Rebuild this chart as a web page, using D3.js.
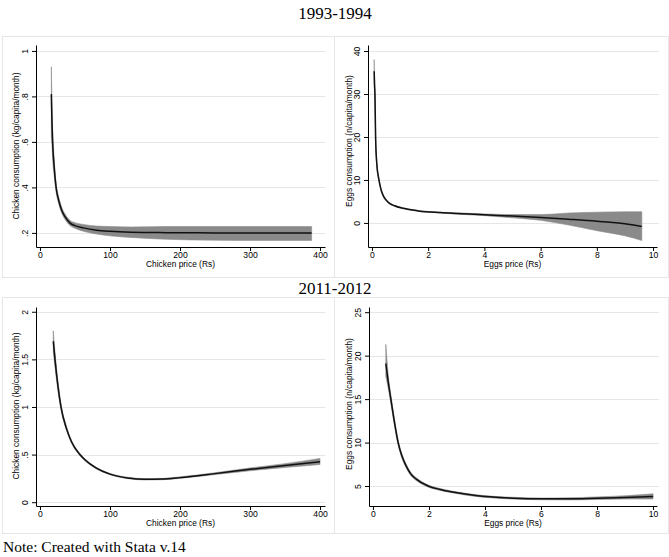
<!DOCTYPE html>
<html><head><meta charset="utf-8">
<script src="https://cdn.jsdelivr.net/npm/d3@7"></script>
<style>
body{margin:0;background:#fff;}
svg{display:block;}
</style></head>
<body><svg id="c" width="669" height="557"></svg>
<script>
// ---------- data ----------
const periodTitles = ["1993-1994", "2011-2012"];
const noteText = "Note: Created with Stata v.14";

// 1993-1994 chicken
const chk93Price = [16.2, 17, 18, 20, 23, 27, 31, 36, 43, 50, 62, 81, 100, 130, 180, 250, 320, 388];
const chk93Fit   = [0.81, 0.70, 0.60, 0.50, 0.40, 0.34, 0.30, 0.27, 0.243, 0.232, 0.222, 0.212, 0.207, 0.203, 0.201, 0.200, 0.200, 0.200];
const chk93Lo    = [0.62, 0.60, 0.53, 0.46, 0.38, 0.325, 0.287, 0.258, 0.232, 0.220, 0.207, 0.195, 0.187, 0.180, 0.172, 0.168, 0.167, 0.167];
const chk93Hi    = [0.93, 0.80, 0.67, 0.54, 0.42, 0.355, 0.313, 0.282, 0.255, 0.245, 0.237, 0.230, 0.228, 0.226, 0.228, 0.228, 0.228, 0.228];

// 1993-1994 eggs
const egg93Price = [0.08, 0.09, 0.107, 0.13, 0.17, 0.25, 0.33, 0.43, 0.55, 0.64, 0.8, 1.11, 1.65, 2.42, 3, 4, 5, 6, 7, 8, 9, 9.6];
const egg93Fit   = [35.3, 32.5, 30, 20, 14, 10, 7.6, 6.0, 5.0, 4.5, 4.0, 3.4, 2.8, 2.4, 2.2, 1.9, 1.6, 1.25, 0.85, 0.4, -0.2, -0.85];
const egg93Lo    = [33, 30.5, 28.5, 19, 13.4, 9.7, 7.4, 5.85, 4.9, 4.4, 3.9, 3.3, 2.7, 2.3, 2.05, 1.7, 1.2, 0.6, -0.5, -1.8, -3.0, -4.1];
const egg93Hi    = [38, 34.5, 31.5, 21, 14.6, 10.3, 7.8, 6.15, 5.1, 4.6, 4.1, 3.5, 2.9, 2.5, 2.35, 2.1, 1.95, 1.95, 2.3, 2.5, 2.6, 2.6];

// 2011-2012 chicken
const chk11Price = [19, 21.4, 26, 30, 38, 45, 57, 65, 80, 100, 125, 150, 175, 200, 250, 300, 350, 400];
const chk11Fit   = [1.69, 1.50, 1.20, 1.00, 0.77, 0.635, 0.50, 0.44, 0.36, 0.295, 0.255, 0.240, 0.243, 0.258, 0.30, 0.345, 0.385, 0.425];
const chk11Lo    = [1.58, 1.42, 1.15, 0.97, 0.75, 0.62, 0.488, 0.43, 0.352, 0.288, 0.248, 0.233, 0.236, 0.250, 0.29, 0.33, 0.365, 0.395];
const chk11Hi    = [1.80, 1.58, 1.25, 1.03, 0.79, 0.65, 0.512, 0.45, 0.368, 0.302, 0.262, 0.247, 0.250, 0.266, 0.31, 0.36, 0.405, 0.46];

// 2011-2012 eggs
const egg11Price = [0.46, 0.55, 0.64, 0.75, 0.9, 1.03, 1.18, 1.35, 1.56, 1.97, 2.4, 2.85, 3.67, 5, 6, 7, 8, 9, 10];
const egg11Fit   = [19.1, 16.9, 15.0, 12.7, 10.0, 8.5, 7.34, 6.4, 5.76, 5.0, 4.6, 4.3, 3.9, 3.6, 3.52, 3.52, 3.6, 3.68, 3.78];
const egg11Lo    = [17.6, 16.2, 14.5, 12.3, 9.7, 8.25, 7.12, 6.22, 5.6, 4.88, 4.49, 4.2, 3.8, 3.5, 3.42, 3.4, 3.45, 3.5, 3.5];
const egg11Hi    = [21.3, 17.7, 15.5, 13.1, 10.3, 8.75, 7.56, 6.58, 5.92, 5.12, 4.71, 4.4, 4.0, 3.7, 3.62, 3.64, 3.75, 3.88, 4.1];

// axis ticks and labels
const chickenXTicks = [0, 100, 200, 300, 400];
const eggsXTicks = [0, 2, 4, 6, 8, 10];
const chk93YTicks = [0.2, 0.4, 0.6, 0.8, 1];
const chk93YLabels = [".2", ".4", ".6", ".8", "1"];
const egg93YTicks = [0, 10, 20, 30, 40];
const egg93YLabels = ["0", "10", "20", "30", "40"];
const chk11YTicks = [0, 0.5, 1, 1.5, 2];
const chk11YLabels = ["0", ".5", "1", "1.5", "2"];
const egg11YTicks = [5, 10, 15, 20, 25];
const egg11YLabels = ["5", "10", "15", "20", "25"];

const chickenXTitle = "Chicken price (Rs)";
const eggsXTitle = "Eggs price (Rs)";
const chickenYTitle = "Chicken consumption (kg/capita/month)";
const eggsYTitle = "Eggs consumption (n/capita/month)";

// ---------- layout ----------
const svg = d3.select("#c");
const serif = "'Liberation Serif','Times New Roman',serif";
const sans = "'Liberation Sans',Arial,sans-serif";

svg.append("text").attr("x", 335).attr("y", 19).attr("text-anchor", "middle")
  .attr("font-family", serif).attr("font-size", 17).text(periodTitles[0]);
svg.append("text").attr("x", 335).attr("y", 294).attr("text-anchor", "middle")
  .attr("font-family", serif).attr("font-size", 17).text(periodTitles[1]);
svg.append("text").attr("x", 3).attr("y", 552)
  .attr("font-family", serif).attr("font-size", 15.5).text(noteText);

const panels = [
  {frame:[2,36,332,241], xd:[-5.7,407.1], xr:[36,325], yd:[0.138,1.026], yr:[247,45], gridR:325,
   price:chk93Price, fit:chk93Fit, lo:chk93Lo, hi:chk93Hi, xt:chickenXTicks, yt:chk93YTicks, yl:chk93YLabels,
   xTitle:chickenXTitle, yTitle:chickenYTitle, yTitleX:18.5, yTitleC:146},
  {frame:[334,36,334,241], xd:[-0.14,10.14], xr:[368,657], yd:[-5.6,41.4], yr:[247,45], gridR:659,
   price:egg93Price, fit:egg93Fit, lo:egg93Lo, hi:egg93Hi, xt:eggsXTicks, yt:egg93YTicks, yl:egg93YLabels,
   xTitle:eggsXTitle, yTitle:eggsYTitle, yTitleX:351.5, yTitleC:141},
  {frame:[2,297,332,236], xd:[-5.7,407.1], xr:[36,325], yd:[-0.04,2.05], yr:[506,307], gridR:325,
   price:chk11Price, fit:chk11Fit, lo:chk11Lo, hi:chk11Hi, xt:chickenXTicks, yt:chk11YTicks, yl:chk11YLabels,
   xTitle:chickenXTitle, yTitle:chickenYTitle, yTitleX:18.5, yTitleC:406},
  {frame:[334,297,334,236], xd:[-0.14,10.14], xr:[369,657], yd:[2.7,25.6], yr:[506,307], gridR:659,
   price:egg11Price, fit:egg11Fit, lo:egg11Lo, hi:egg11Hi, xt:eggsXTicks, yt:egg11YTicks, yl:egg11YLabels,
   xTitle:eggsXTitle, yTitle:eggsYTitle, yTitleX:351.5, yTitleC:404}
];

panels.forEach(p => {
  const g = svg.append("g");
  g.append("rect").attr("x", p.frame[0]+0.5).attr("y", p.frame[1]+0.5)
    .attr("width", p.frame[2]).attr("height", p.frame[3])
    .attr("fill", "none").attr("stroke", "#e6e6e6").attr("stroke-width", 1);

  const x = d3.scaleLinear().domain(p.xd).range(p.xr);
  const y = d3.scaleLinear().domain(p.yd).range(p.yr);

  // gridlines
  g.selectAll(".grid").data(p.yt).enter().append("line")
    .attr("x1", p.xr[0]).attr("x2", p.gridR)
    .attr("y1", d => Math.round(y(d))+0.5).attr("y2", d => Math.round(y(d))+0.5)
    .attr("stroke", "#e6e6e6").attr("stroke-width", 1);

  const pts = p.price.map((v,i) => ({x:v, f:p.fit[i], lo:p.lo[i], hi:p.hi[i]}));
  const area = d3.area().x(d => x(d.x)).y0(d => y(d.lo)).y1(d => y(d.hi)).curve(d3.curveMonotoneX);
  const line = d3.line().x(d => x(d.x)).y(d => y(d.f)).curve(d3.curveMonotoneX);
  g.append("path").datum(pts).attr("d", area).attr("fill", "#8a8a8a").attr("stroke", "#8a8a8a").attr("stroke-width", 0.6);
  g.append("path").datum(pts).attr("d", line).attr("fill", "none").attr("stroke", "#111").attr("stroke-width", 1.5);

  // x axis
  const xa = g.append("g").attr("transform", `translate(0,${p.yr[0]})`)
    .call(d3.axisBottom(x).tickValues(p.xt).tickFormat(d3.format("d")).tickSize(4).tickSizeOuter(0).tickPadding(0.5));
  xa.select(".domain").attr("stroke", "#000");
  xa.selectAll(".tick line").attr("stroke", "#000");
  xa.selectAll(".tick text").attr("font-size", 8.6).attr("fill", "#000").attr("font-family", sans);

  // y axis
  const ya = g.append("g").attr("transform", `translate(${p.xr[0]},0)`)
    .call(d3.axisLeft(y).tickValues(p.yt).tickFormat((d,i) => p.yl[i]).tickSize(4).tickSizeOuter(0));
  ya.select(".domain").attr("stroke", "#000");
  ya.selectAll(".tick line").attr("stroke", "#000");
  ya.selectAll(".tick text").attr("font-size", 8.6).attr("fill", "#000").attr("font-family", sans)
    .attr("x", null).attr("dy", null)
    .attr("text-anchor", "middle")
    .attr("transform", "translate(-8,0) rotate(-90)");

  // titles
  g.append("text").attr("x", (p.xr[0]+p.xr[1])/2).attr("y", p.yr[0]+20)
    .attr("text-anchor", "middle").attr("font-family", sans).attr("font-size", 8.4).text(p.xTitle);
  g.append("text").attr("transform", `translate(${p.yTitleX},${p.yTitleC}) rotate(-90)`)
    .attr("text-anchor", "middle").attr("font-family", sans).attr("font-size", 8.4).text(p.yTitle);
});
</script></body></html>
